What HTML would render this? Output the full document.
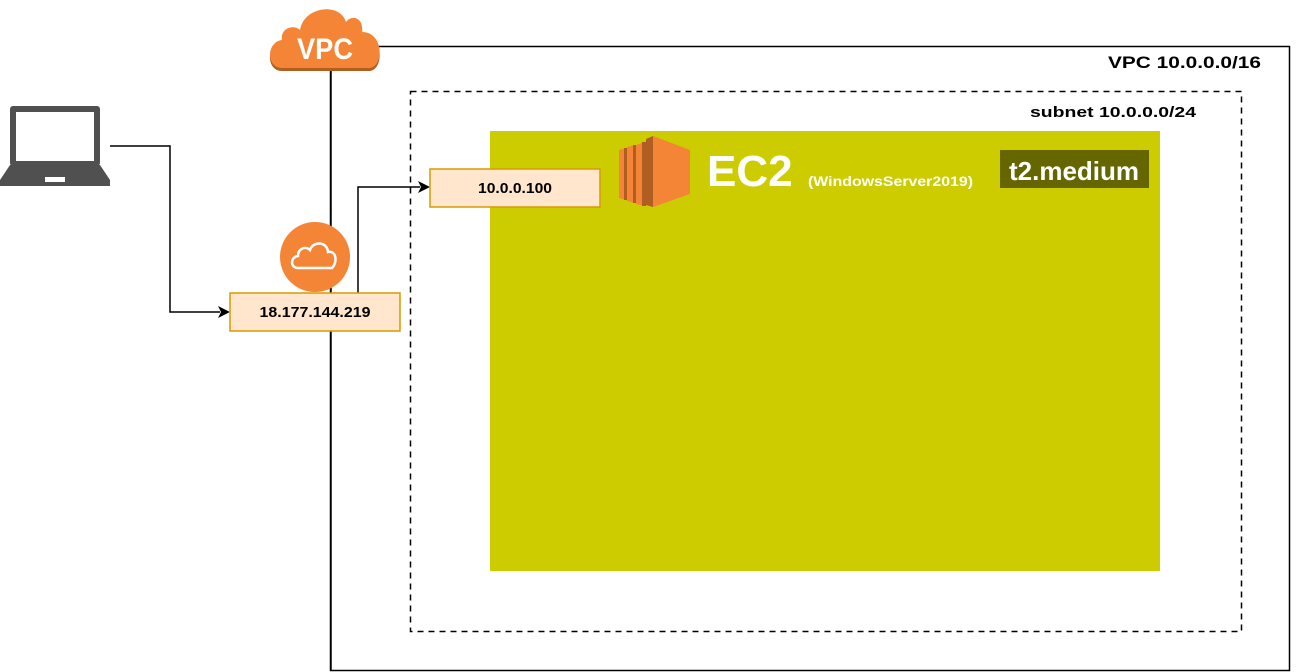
<!DOCTYPE html>
<html><head><meta charset="utf-8"><style>
html,body{margin:0;padding:0;background:#fff;}
svg{display:block;}
text{font-family:"Liberation Sans",Arial,sans-serif;}
</style></head><body>
<svg width="1301" height="672" viewBox="0 0 1301 672" xmlns="http://www.w3.org/2000/svg">
<rect x="330.5" y="46.5" width="959" height="624" fill="none" stroke="#000" stroke-width="1.5"/>
<text x="1261" y="68" font-size="17" font-weight="bold" text-anchor="end" textLength="153" lengthAdjust="spacingAndGlyphs">VPC 10.0.0.0/16</text>
<rect x="410.5" y="91.5" width="831" height="540" fill="none" stroke="#000" stroke-width="1.5" stroke-dasharray="6,5"/>
<text x="1030" y="117" font-size="15" font-weight="bold" textLength="166" lengthAdjust="spacingAndGlyphs">subnet  10.0.0.0/24</text>
<rect x="490" y="131" width="670" height="440" fill="#CCCC00"/>
<g>
<polygon points="619,150 626,148 626,200 619,198" fill="#F58536"/>
<polygon points="624,148 627,148 627,200 624,200" fill="#B05E22"/>
<polygon points="627,147 635,145 635,203 627,201" fill="#F58536"/>
<polygon points="633,145 636,145 636,203 633,203" fill="#B05E22"/>
<polygon points="636,145 645,142 645,206 636,204" fill="#F58536"/>
<polygon points="642,142 646,142 646,206 642,206" fill="#B05E22"/>
<polygon points="646,139 653,136 653,207 646,205" fill="#B05E22"/>
<polygon points="653,136 690,150 690,194 653,207" fill="#F58536"/>
</g>
<text x="707" y="186" font-size="44" font-weight="bold" fill="#fff">EC2</text>
<text x="808" y="186" font-size="14" font-weight="bold" fill="#fff" textLength="165" lengthAdjust="spacingAndGlyphs">(WindowsServer2019)</text>
<rect x="1000" y="150" width="149" height="38" fill="#666600"/>
<text x="1074" y="180" font-size="26" font-weight="bold" fill="#fff" text-anchor="middle">t2.medium</text>
<line x1="331" y1="60" x2="331" y2="670" stroke="#000" stroke-width="1.5"/>
<g>
<path d="M282,68 C266,68 266,42 282,40 C280,28 294,24 300,30 C304,6 340,2 346,22 C352,14 364,18 362,32 C384,32 384,66 370,68 Z" fill="#B05E22" transform="translate(0,3)"/>
<path d="M282,68 C266,68 266,42 282,40 C280,28 294,24 300,30 C304,6 340,2 346,22 C352,14 364,18 362,32 C384,32 384,66 370,68 Z" fill="#F58536"/>
<text x="297" y="59" font-size="30" font-weight="bold" fill="#fff" textLength="56" lengthAdjust="spacingAndGlyphs">VPC</text>
</g>
<rect x="10" y="106" width="90" height="60" rx="3" fill="#505050"/>
<rect x="16" y="112" width="78" height="49" fill="#fff"/>
<path d="M10,165 L100,165 L110,180 L110,186 L0,186 L0,180 Z" fill="#505050"/>
<rect x="45" y="177" width="20" height="5" fill="#fff"/>
<polyline points="110,146 170,146 170,312 220,312" fill="none" stroke="#000" stroke-width="1.5"/>
<polygon points="230,312 218,306 221,312 218,318" fill="#000"/>
<polyline points="358,293 358,187 420,187" fill="none" stroke="#000" stroke-width="1.5"/>
<polygon points="430,187 418,181 421,187 418,193" fill="#000"/>
<circle cx="315" cy="257" r="35" fill="#F58536"/>
<path d="M298,268 C290,268 290,257 298,256 C298,248 306,246 310,250 C313,241 327,241 328,252 C336,250 338,262 332,268 Z" fill="none" stroke="#fff" stroke-width="2.5"/>
<rect x="230" y="293" width="170" height="38" fill="#FFE6CC" stroke="#D79B00" stroke-width="1.5"/>
<text x="315" y="317" font-size="15" font-weight="bold" text-anchor="middle" textLength="111" lengthAdjust="spacingAndGlyphs">18.177.144.219</text>
<rect x="430" y="169" width="170" height="38" fill="#FFE6CC" stroke="#D79B00" stroke-width="1.5"/>
<text x="515" y="193" font-size="15" font-weight="bold" text-anchor="middle" textLength="74" lengthAdjust="spacingAndGlyphs">10.0.0.100</text>
</svg>
</body></html>
